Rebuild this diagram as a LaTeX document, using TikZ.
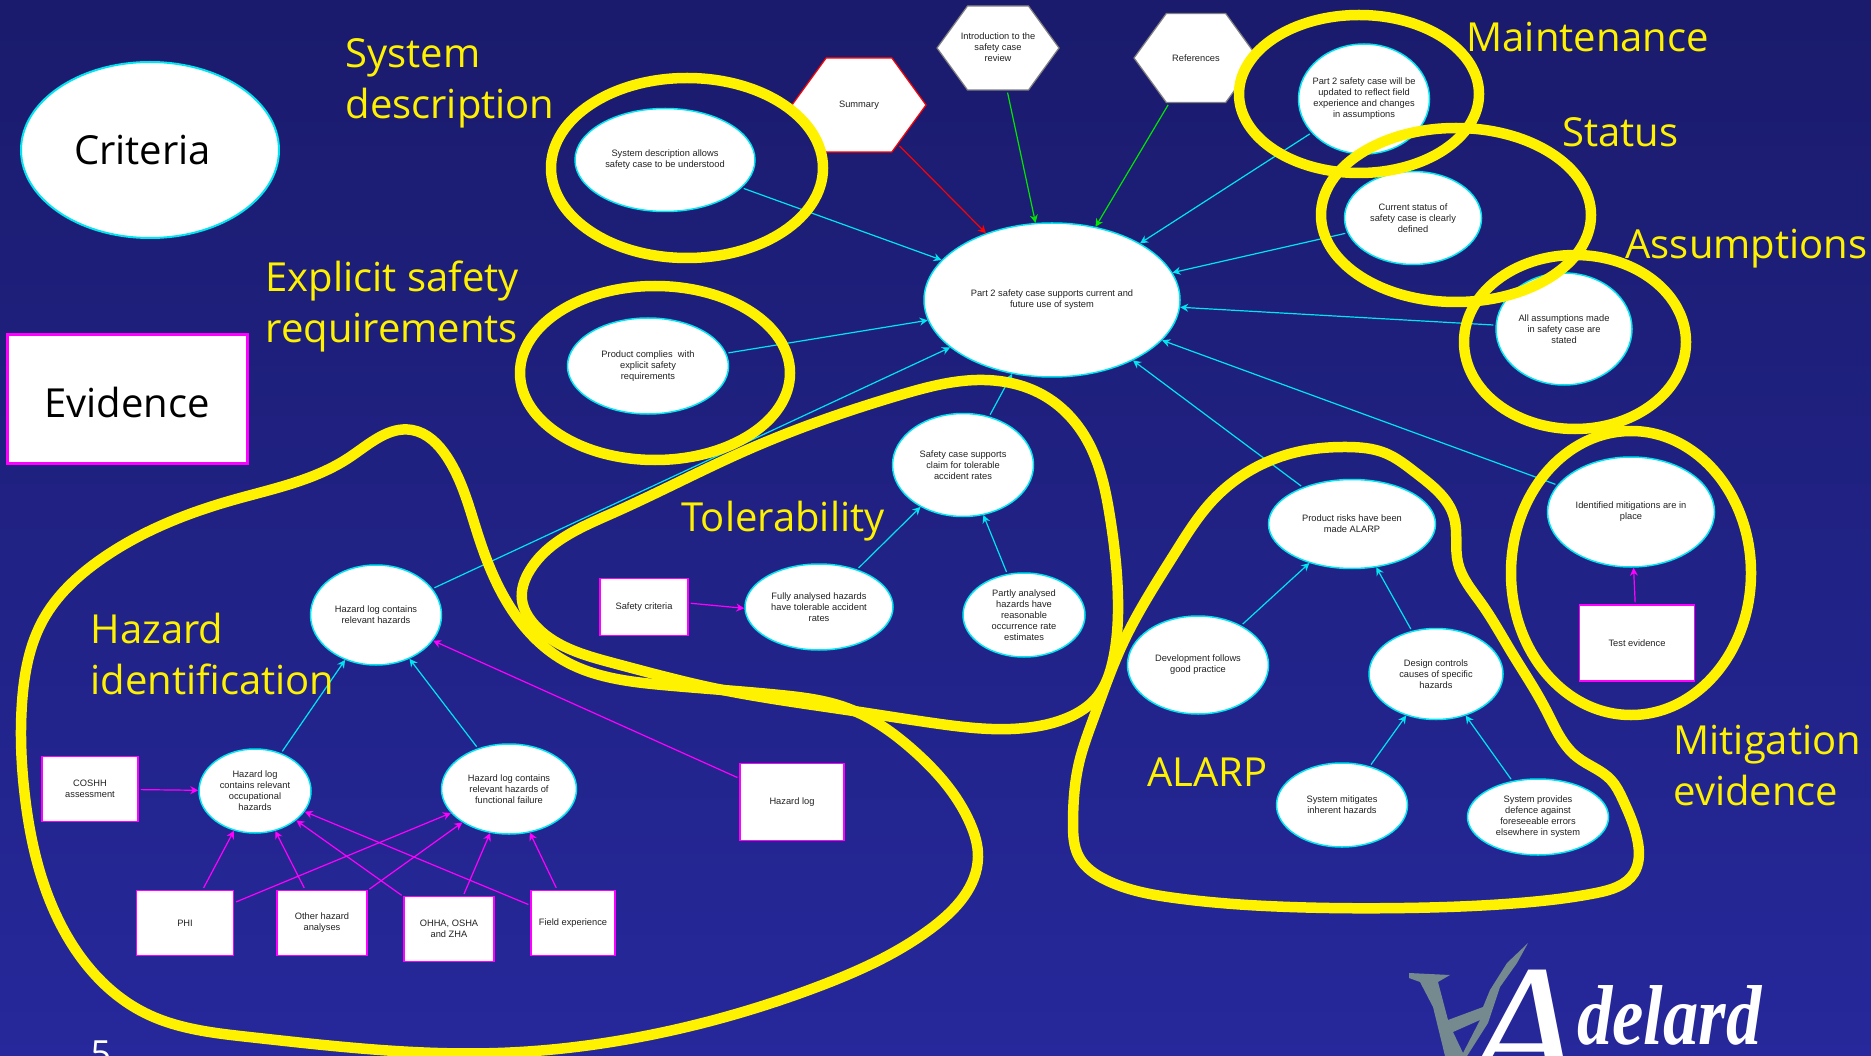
\documentclass[tikz,border=0pt]{standalone}
\usepackage{fontspec}
\setmainfont{Liberation Sans}
\newfontfamily\bigfont{Open Sans}
\newfontfamily\logofont{Liberation Serif}
\usetikzlibrary{arrows.meta}
\usetikzlibrary{shapes.geometric}
\usetikzlibrary{shapes.symbols}
\usetikzlibrary{hobby}
\definecolor{slidetop}{HTML}{1A1B6C}
\definecolor{slidebottom}{HTML}{26289B}
\definecolor{critline}{HTML}{00E5F0}
\definecolor{evidline}{HTML}{FF00FF}
\definecolor{logogrey}{HTML}{748A8E}
\definecolor{nodeink}{HTML}{222222}
\tikzset{
    crit/.style={ellipse, draw=critline, line width=1.5pt, fill=white, inner sep=0pt, align=center,
        text=nodeink, font=\fontsize{9.3}{11}\selectfont},
    evid/.style={rectangle, draw=evidline, line width=1.5pt, fill=white, inner sep=0pt, align=center,
        text=nodeink, font=\fontsize{9.3}{11}\selectfont},
    hexa/.style={signal, signal to=west and east, signal from=nowhere, signal pointer angle=108,
        fill=white, line width=1.2pt, inner sep=0pt, align=center,
        text=nodeink, font=\fontsize{9.3}{11}\selectfont},
    critarrow/.style={-{Stealth[length=8pt, width=8pt]}, critline, line width=1.2pt, shorten <=2pt},
    evidarrow/.style={-{Stealth[length=8pt, width=8pt]}, evidline, line width=1.2pt, shorten <=2pt},
    greenarrow/.style={-{Stealth[length=8pt, width=8pt]}, green!90!black, line width=1.2pt, shorten <=2pt},
    ring/.style={draw=yellow, line width=10.5pt},
    toptitle/.style={text=yellow, anchor=west, align=left, font=\bigfont\fontsize{40}{51}\selectfont},
}

\begin{document}
\begin{tikzpicture}[x=1pt, y=-1pt]
    \useasboundingbox (0,0) rectangle (1871,1056);
    \shade[top color=slidetop, bottom color=slidebottom] (0,0) rectangle (1871,1056);

    % Key
    \node[ellipse, draw=critline, line width=2pt, fill=white, minimum width=258pt, minimum height=176pt,
        inner sep=0pt, font=\bigfont\fontsize{40}{48}\selectfont] (keycrit) at (150,150) {Criteria\kern15pt};
    \node[rectangle, draw=evidline, line width=3pt, fill=white, minimum width=240pt, minimum height=128pt,
        inner sep=0pt, font=\bigfont\fontsize{40}{48}\selectfont] (keyevid) at (127,399) {\raisebox{-19pt}[0pt][0pt]{Evidence}};

    % Context hexagons
    \node[hexa, draw=red, minimum width=134pt, minimum height=94pt] (summary) at (859,105) {Summary};
    \node[hexa, draw=gray, minimum width=122pt, minimum height=84pt] (intro) at (998,48) {\makebox[60pt]{\begin{tabular}{@{}c@{}}Introduction to the\\safety case\\review\end{tabular}}};
    \node[hexa, draw=gray, minimum width=124pt, minimum height=89pt] (refs) at (1196,58) {References};

    % Upper criteria
    \node[crit, minimum width=256pt, minimum height=154pt] (main) at (1052,300) {Part 2 safety case supports current and\\future use of system};
    \node[crit, minimum width=180pt, minimum height=103pt] (sysdesc) at (665,160) {System description allows\\safety case to be understood};
    \node[crit, minimum width=161pt, minimum height=96pt] (explicit) at (648,366) {Product complies\ \ with\\explicit safety\\requirements};
    \node[crit, minimum width=131pt, minimum height=110pt, inner xsep=-7pt] (maint) at (1364,99) {Part 2 safety case will be\\updated to reflect field\\experience and changes\\in assumptions};
    \node[crit, minimum width=137pt, minimum height=93pt] (status) at (1413,218) {Current status of\\safety case is clearly\\defined};
    \node[crit, minimum width=136pt, minimum height=112pt] (assump) at (1564,329) {All assumptions made\\in safety case are\\stated};
    \node[crit, minimum width=167pt, minimum height=110pt] (mitig) at (1631,512) {Identified mitigations are in\\place};
    \node[evid, minimum width=115pt, minimum height=76pt] (test) at (1637,643) {Test evidence};

    % Tolerability
    \node[crit, minimum width=141pt, minimum height=103pt] (toler) at (963,465) {Safety case supports\\claim for tolerable\\accident rates};
    \node[crit, minimum width=148pt, minimum height=86pt] (fully) at (819,607) {Fully analysed hazards\\have tolerable accident\\rates};
    \node[crit, minimum width=122pt, minimum height=84pt] (partly) at (1024,615) {Partly analysed\\hazards have\\reasonable\\occurrence rate\\estimates};
    \node[evid, minimum width=88pt, minimum height=57pt] (safecrit) at (644,607) {Safety criteria};

    % ALARP
    \node[crit, minimum width=167pt, minimum height=89pt] (risks) at (1352,524) {Product risks have been\\made ALARP};
    \node[crit, minimum width=141pt, minimum height=98pt] (devel) at (1198,665) {Development follows\\good practice};
    \node[crit, minimum width=134pt, minimum height=91pt] (design) at (1436,674) {Design controls\\causes of specific\\hazards};
    \node[crit, minimum width=131pt, minimum height=84pt] (inherent) at (1342,805) {System mitigates\\inherent hazards};
    \node[crit, minimum width=141pt, minimum height=76pt] (defence) at (1538,817) {System provides\\defence against\\foreseeable errors\\elsewhere in system};

    % Hazard identification
    \node[crit, minimum width=131pt, minimum height=100pt] (hazrel) at (376,615) {Hazard log contains\\relevant hazards};
    \node[crit, minimum width=112pt, minimum height=84pt] (hazocc) at (255,791) {Hazard log\\contains relevant\\occupational\\hazards};
    \node[crit, minimum width=135pt, minimum height=90pt] (hazfunc) at (509,789) {Hazard log contains\\relevant hazards of\\functional failure};
    \node[evid, minimum width=104pt, minimum height=77pt] (hazlog) at (792,802) {Hazard log};
    \node[evid, minimum width=96pt, minimum height=65pt] (coshh) at (90,789) {COSHH\\assessment};
    \node[evid, minimum width=97pt, minimum height=65pt] (phi) at (185,923) {PHI};
    \node[evid, minimum width=90pt, minimum height=65pt] (other) at (322,923) {Other hazard\\analyses};
    \node[evid, minimum width=90pt, minimum height=65pt] (ohha) at (449,929) {OHHA, OSHA\\and ZHA};
    \node[evid, minimum width=84pt, minimum height=65pt] (field) at (573,923) {Field experience};

    % Connectors
    \draw[-{Stealth[length=8pt, width=8pt]}, red, line width=1.2pt, shorten <=2pt] (summary) -- (main);
    \draw[greenarrow] (intro) -- (main);
    \draw[greenarrow] (refs) -- (main);
    \draw[critarrow] (sysdesc) -- (main);
    \draw[critarrow] (explicit) -- (main);
    \draw[critarrow] (maint) -- (main);
    \draw[critarrow] (status) -- (main);
    \draw[critarrow] (assump) -- (main);
    \draw[critarrow] (mitig) -- (main);
    \draw[critarrow] (risks) -- (main);
    \draw[critarrow] (toler) -- (main);
    \draw[critarrow] (hazrel) -- (main);
    \draw[critarrow] (fully) -- (toler);
    \draw[critarrow] (partly) -- (toler);
    \draw[critarrow] (devel) -- (risks);
    \draw[critarrow] (design) -- (risks);
    \draw[critarrow] (inherent) -- (design);
    \draw[critarrow] (defence) -- (design);
    \draw[critarrow] (hazocc) -- (hazrel);
    \draw[critarrow] (hazfunc) -- (hazrel);
    \draw[evidarrow] (test) -- (mitig);
    \draw[evidarrow] (safecrit.5) -- (fully.181);
    \draw[evidarrow] (hazlog) -- (hazrel);
    \draw[evidarrow] (coshh) -- (hazocc);
    \draw[evidarrow] (phi) -- (hazocc);
    \draw[evidarrow] (other) -- (hazocc);
    \draw[evidarrow] (ohha) -- (hazocc);
    \draw[evidarrow] (field) -- (hazocc);
    \draw[evidarrow] (phi) -- (hazfunc);
    \draw[evidarrow] (other) -- (hazfunc);
    \draw[evidarrow] (ohha) -- (hazfunc);
    \draw[evidarrow] (field) -- (hazfunc);

    % Yellow rings
    \draw[ring] (687,168) ellipse [x radius=136, y radius=90];
    \draw[ring] (655,373) ellipse [x radius=135, y radius=87];
    \draw[ring] (1359,94) ellipse [x radius=120, y radius=79];
    \draw[ring] (1456,215) ellipse [x radius=135, y radius=87];
    \draw[ring] (1575,342) ellipse [x radius=111, y radius=87];
    \draw[ring] (1631,573) ellipse [x radius=120, y radius=142];

    % Yellow blobs
    \draw[ring, use Hobby shortcut, closed=true] (900,395) .. (977,380) .. (1043,395) .. (1087,440) .. (1110,517) .. (1118,600) .. (1113,660) .. (1097,697) .. (1067,718) .. (1033,727) .. (933,723) .. (847,710) .. (713,688) .. (613,663) .. (533,623) .. (522,600) .. (530,570) .. (613,513) .. (747,450);
    \draw[ring, use Hobby shortcut, closed=true] (412,430) .. (447,457) .. (478,535) .. (510,607) .. (563,660) .. (663,685) .. (780,695) .. (847,708) .. (913,750) .. (970,823) .. (978,857) .. (933,927) .. (817,987) .. (650,1035) .. (498,1053) .. (249,1037) .. (145,1013) .. (62,927) .. (25,797) .. (22,703) .. (43,620) .. (100,560) .. (233,500) .. (350,457);
    \draw[ring, use Hobby shortcut, closed=true] (1347,447) .. (1385,453) .. (1416,473) .. (1454,517) .. (1458,563) .. (1481,603) .. (1512,653) .. (1546,710) .. (1577,757) .. (1611,780) .. (1623,800) .. (1638,843) .. (1634,873) .. (1596,893) .. (1519,903) .. (1404,908) .. (1290,907) .. (1175,898) .. (1106,880) .. (1079,857) .. (1073,823) .. (1079,763) .. (1094,717) .. (1123,643) .. (1175,553) .. (1213,500) .. (1251,470) .. (1297,452);

    % Titles
    \node[toptitle] (tsys) at (342,83) {System\\description};
    \node[toptitle] (texp) at (262,307) {Explicit safety\\requirements};
    \node[toptitle] (tmaint) at (1463,37) {Maintenance};
    \node[toptitle] (tstat) at (1559,132) {Status};
    \node[toptitle] (tass) at (1622,249) {Assumptions};
    \node[toptitle] (tmit) at (1670,766) {Mitigation\\evidence};
    \node[toptitle] (ttol) at (678,521) {Tolerability};
    \node[toptitle] (thaz) at (87,654) {Hazard\\identification};
    \node[toptitle] (talarp) at (1144,772) {ALARP};

    % Page number
    \node[text=white, anchor=north, inner sep=0pt, font=\bigfont\fontsize{36}{42}\selectfont] (pagenum) at (101,1041) {5};

    % Logo
    \fill[logogrey, even odd rule] (1409,973) -- (1450,975) -- (1438,982) -- (1448,1020) -- (1483,1007) -- (1490,990) -- (1507,963) -- (1528,943) -- (1517,963) -- (1500,987) -- (1488,1023) -- (1467,1056) -- (1445,1056) -- (1433,1007) -- (1420,982) -- (1409,978) -- cycle
        (1453,1032) -- (1480,1020) -- (1463,1053) -- cycle;
    \node[text=white, anchor=base west, inner sep=0pt, font=\logofont\itshape\fontsize{190}{190}\selectfont] (logoa) at (1464,1095) {A};
    \node[text=white, anchor=base west, inner sep=0pt, xscale=0.83, font=\logofont\bfseries\itshape\fontsize{85}{85}\selectfont] (logotext) at (1577,1044) {delard};
\end{tikzpicture}
\end{document}
